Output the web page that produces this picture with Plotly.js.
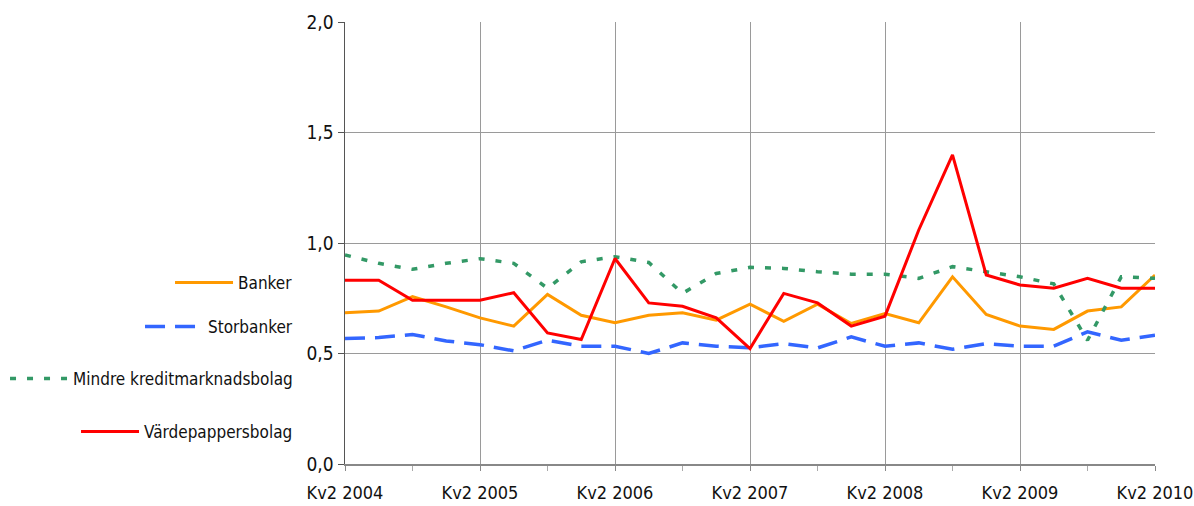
<!DOCTYPE html>
<html>
<head>
<meta charset="utf-8">
<script src="https://cdn.plot.ly/plotly-3.0.1.min.js"></script>
<style>html,body{margin:0;padding:0;background:#fff}#chart{width:1194px;height:506px}</style>
</head>
<body>
<div id="chart"></div>
<script>
const categories = ["Kv2 2004","Kv3 2004","Kv4 2004","Kv1 2005","Kv2 2005","Kv3 2005","Kv4 2005","Kv1 2006","Kv2 2006","Kv3 2006","Kv4 2006","Kv1 2007","Kv2 2007","Kv3 2007","Kv4 2007","Kv1 2008","Kv2 2008","Kv3 2008","Kv4 2008","Kv1 2009","Kv2 2009","Kv3 2009","Kv4 2009","Kv1 2010","Kv2 2010"];
const banker = [0.684,0.692,0.757,0.711,0.661,0.624,0.767,0.673,0.639,0.673,0.684,0.651,0.723,0.646,0.723,0.636,0.681,0.639,0.847,0.677,0.624,0.609,0.692,0.711,0.855];
const storbanker = [0.568,0.572,0.586,0.557,0.540,0.512,0.560,0.533,0.533,0.500,0.548,0.533,0.526,0.545,0.525,0.575,0.533,0.548,0.519,0.545,0.533,0.533,0.598,0.560,0.583];
const mindre = [0.946,0.908,0.881,0.908,0.929,0.908,0.795,0.915,0.938,0.912,0.772,0.862,0.890,0.885,0.870,0.859,0.859,0.840,0.893,0.870,0.847,0.815,0.560,0.847,0.840];
const vardepapper = [0.832,0.832,0.741,0.741,0.741,0.775,0.593,0.563,0.930,0.729,0.714,0.661,0.522,0.772,0.729,0.624,0.669,1.059,1.399,0.855,0.810,0.795,0.840,0.795,0.795];
const seriesNames = ["Banker","Storbanker","Mindre kreditmarknadsbolag","Värdepappersbolag"];
const yTickLabels = ["0,0","0,5","1,0","1,5","2,0"];

const xIdx = categories.map((_, i) => i);
const labelIdx = xIdx.filter(i => i % 4 === 0);
const FONT = '"DejaVu Sans Condensed", "Liberation Sans Narrow", sans-serif';

const traces = [
  {x: xIdx, y: banker, name: seriesNames[0], mode: 'lines', line: {color: '#FF9900', width: 3}, legend: 'legend'},
  {x: xIdx, y: storbanker, name: seriesNames[1], mode: 'lines', line: {color: '#3366FF', width: 3.5, dash: '20px,10px'}, legend: 'legend2'},
  {x: xIdx, y: mindre, name: seriesNames[2], mode: 'lines', line: {color: '#339966', width: 3.5, dash: '6px,11px'}, legend: 'legend3'},
  {x: xIdx, y: vardepapper, name: seriesNames[3], mode: 'lines', line: {color: '#FF0000', width: 3}, legend: 'legend4'}
];

const legBase = {xref: 'container', yref: 'container', xanchor: 'right', yanchor: 'middle', bgcolor: 'rgba(0,0,0,0)', font: {family: FONT, size: 17, color: '#111'}, itemwidth: 58};
const lx = 0.2496;

const layout = {
  width: 1194, height: 506,
  margin: {l: 345, r: 39, t: 22, b: 42, autoexpand: false},
  paper_bgcolor: '#fff', plot_bgcolor: '#fff',
  separators: ', ',
  font: {family: FONT, size: 18, color: '#111'},
  xaxis: {
    range: [0, 24], tickvals: labelIdx, ticktext: labelIdx.map(i => categories[i]),
    showgrid: true, gridcolor: '#9a9a9a', gridwidth: 1,
    showline: true, linecolor: '#888', linewidth: 2,
    ticks: 'outside', ticklen: 5, tickcolor: '#888',
    minor: {dtick: 2, tick0: 0, ticks: 'outside', ticklen: 5, tickcolor: '#aaa', showgrid: false},
    zeroline: false, ticklabelstandoff: 6, tickfont: {family: FONT, size: 18, color: '#111'}
  },
  yaxis: {
    range: [0, 2], tickvals: [0, 0.5, 1, 1.5, 2], ticktext: yTickLabels,
    showgrid: true, gridcolor: '#9a9a9a', gridwidth: 1,
    showline: true, linecolor: '#555', linewidth: 1.5,
    ticks: 'outside', ticklen: 6, tickcolor: '#555',
    zeroline: false, tickfont: {family: FONT, size: 19, color: '#111'}
  },
  legend: Object.assign({}, legBase, {x: lx, y: 0.4407}),
  legend2: Object.assign({}, legBase, {x: lx, y: 0.3538}),
  legend3: Object.assign({}, legBase, {x: lx, y: 0.2510}),
  legend4: Object.assign({}, legBase, {x: lx, y: 0.1462}),
  showlegend: true
};

Plotly.newPlot('chart', traces, layout, {displayModeBar: false, staticPlot: true});
</script>
</body>
</html>
